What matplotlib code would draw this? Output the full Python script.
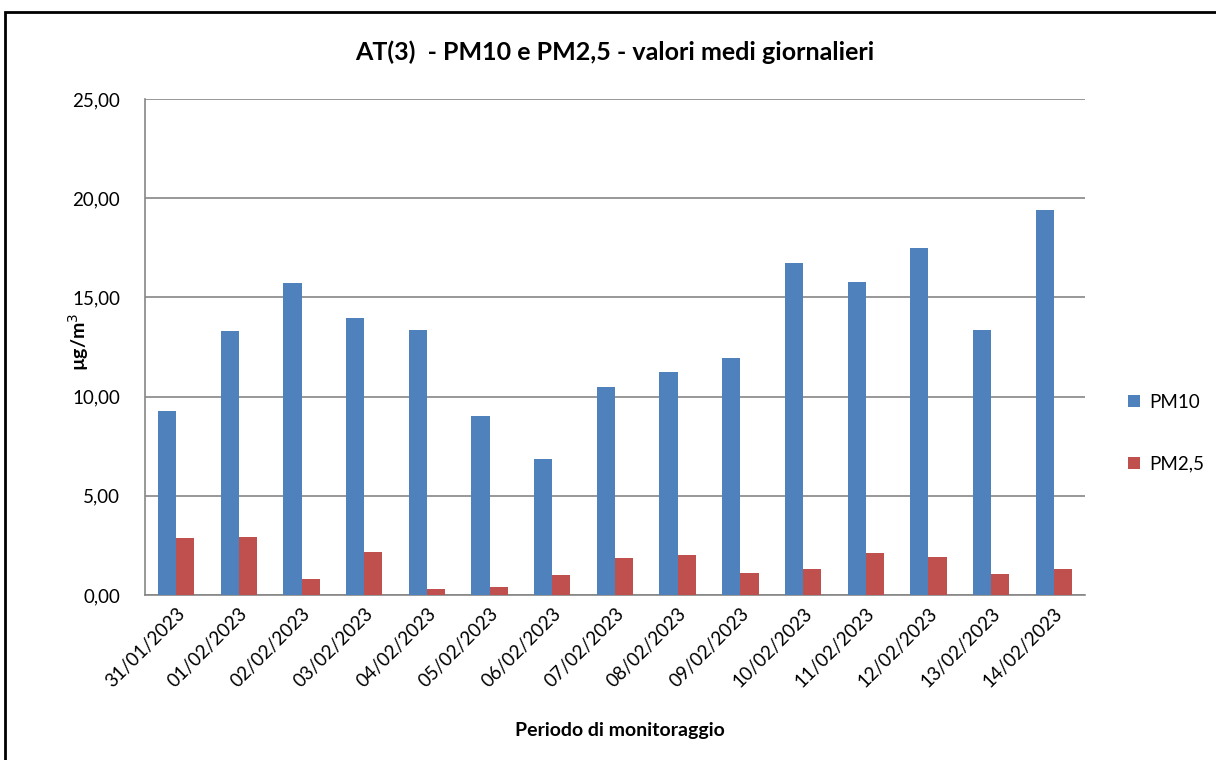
import numpy as np
import matplotlib.pyplot as plt
from matplotlib.patches import Rectangle

plt.rcParams['font.family'] = ['Lato', 'DejaVu Sans']

# Daily values
giorni = ['31/01/2023', '01/02/2023', '02/02/2023', '03/02/2023', '04/02/2023',
          '05/02/2023', '06/02/2023', '07/02/2023', '08/02/2023', '09/02/2023',
          '10/02/2023', '11/02/2023', '12/02/2023', '13/02/2023', '14/02/2023']
pm10 = [9.27, 13.33, 15.73, 13.96, 13.36, 9.02, 6.88, 10.48, 11.26, 11.95,
        16.73, 15.78, 17.49, 13.36, 19.42]
pm25 = [2.85, 2.92, 0.81, 2.17, 0.32, 0.42, 1.03, 1.86, 2.02, 1.11,
        1.31, 2.12, 1.92, 1.06, 1.31]

blue = '#4F81BD'
red = '#C0504D'
grey = '#868686'

fig = plt.figure(figsize=(12.16, 7.6), dpi=100)
ax = fig.add_axes([0.1192, 0.2171, 0.7731, 0.6526])

x = np.arange(len(giorni))
w = 0.29
ax.bar(x - w / 2, pm10, w, color=blue, label='PM10', zorder=3)
ax.bar(x + w / 2, pm25, w, color=red, label='PM2,5', zorder=3)

ax.set_xlim(-0.5, len(giorni) - 0.5)
ax.set_ylim(0, 25)
yt = np.arange(0, 26, 5)
ax.set_yticks(yt)
ax.set_yticklabels([('%.2f' % v).replace('.', ',') for v in yt], fontsize=13.5)
ax.yaxis.grid(True, color=grey, linewidth=1.2, zorder=0)
ax.set_xticks(x)
ax.set_xticklabels(giorni, rotation=45, ha='right', rotation_mode='anchor', fontsize=13.5)
ax.tick_params(axis='both', length=0, pad=7)
ax.tick_params(axis='y', pad=18)

for s in ['top', 'right']:
    ax.spines[s].set_visible(False)
for s in ['left', 'bottom']:
    ax.spines[s].set_color(grey)
    ax.spines[s].set_linewidth(1.2)

ax.set_title('AT(3)  - PM10 e PM2,5 - valori medi giornalieri', fontsize=18,
             fontweight='bold', pad=28)
ax.set_ylabel('µg/m$^3$', fontsize=14, fontweight='bold')
ax.yaxis.set_label_coords(-0.057, 0.51)
ax.set_xlabel('Periodo di monitoraggio', fontsize=14, fontweight='bold')
ax.xaxis.set_label_coords(0.505, -0.256)

fig.legend(loc='center left', bbox_to_anchor=(0.914, 0.43), frameon=False,
           fontsize=13.5, handlelength=0.6, handleheight=0.6, handletextpad=0.5,
           labelspacing=2.4)

# outer chart frame
fig.patches.append(Rectangle((0.004, -0.1), 1.2, 1.084, transform=fig.transFigure,
                             fill=False, edgecolor='black', linewidth=2))

fig.savefig('out.png', dpi=100)
